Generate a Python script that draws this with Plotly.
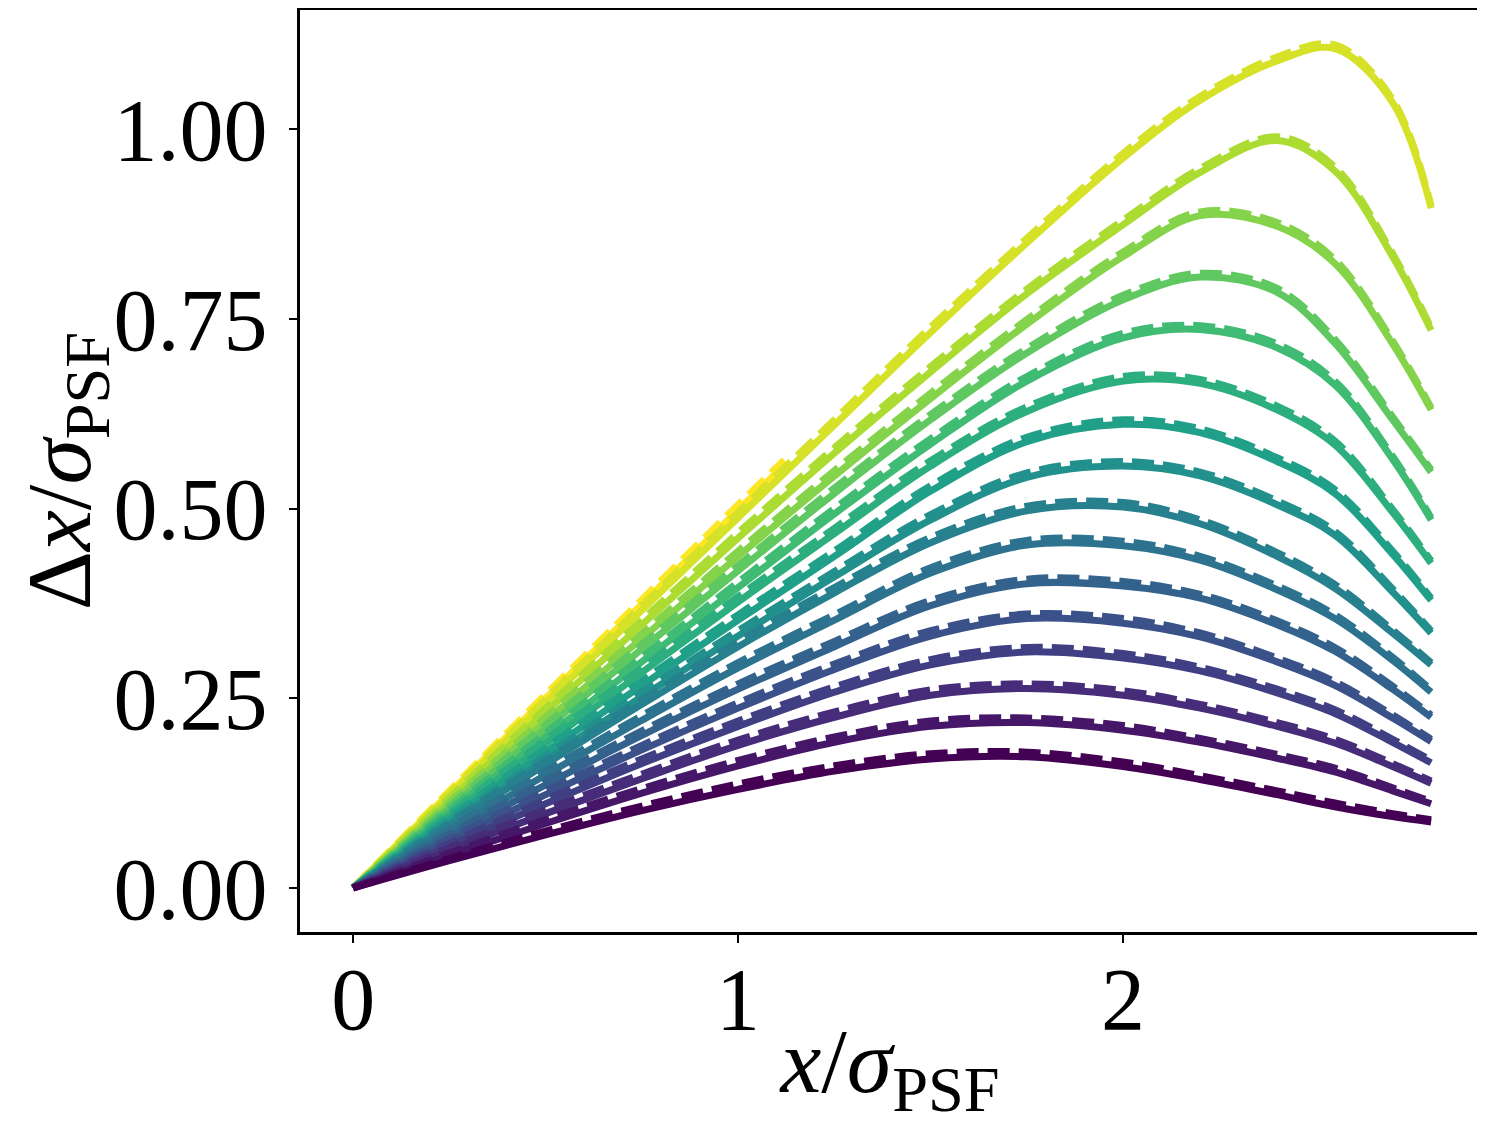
import plotly.graph_objects as go
from plotly.colors import sample_colorscale

# x positions (x / sigma_PSF) at which the curves were read
x_grid = [0, 0.25, 0.5, 0.75, 1.0, 1.25, 1.5, 1.75, 2.0, 2.2, 2.4, 2.55, 2.7, 2.8]
x_short = [0, 0.25, 0.5, 0.75, 1.0, 1.12]

# measured curves (solid), top (yellow) to bottom (purple)
y_data_00 = [0, .125, .250, .374, .498, .557]
y_data_01 = [0, .122, .244, .366, .488, .610, .732, .850, .962, 1.038, 1.090, 1.106, 1.035, .896]
y_data_02 = [0, .116, .232, .347, .461, .573, .680, .783, .874, .943, .985, .945, .832, .735]
y_data_03 = [0, .110, .220, .329, .437, .543, .645, .743, .832, .886, .872, .823, .717, .630]
y_data_04 = [0, .105, .210, .315, .418, .520, .617, .705, .775, .805, .785, .718, .617, .548]
y_data_05 = [0, .100, .199, .298, .396, .493, .585, .668, .725, .736, .712, .663, .565, .485]
y_data_06 = [0, .095, .190, .284, .377, .467, .556, .628, .668, .665, .630, .584, .495, .428]
y_data_07 = [0, .090, .179, .267, .353, .437, .523, .588, .611, .600, .562, .520, .440, .379]
y_data_08 = [0, .085, .169, .252, .332, .410, .485, .541, .556, .543, .505, .465, .390, .336]
y_data_09 = [0, .082, .163, .242, .318, .389, .455, .497, .502, .480, .437, .395, .336, .294]
y_data_10 = [0, .075, .149, .221, .290, .353, .415, .452, .451, .432, .393, .355, .300, .258]
y_data_11 = [0, .068, .136, .201, .262, .318, .372, .401, .398, .382, .347, .312, .262, .225]
y_data_12 = [0, .062, .123, .182, .237, .288, .332, .355, .349, .331, .298, .267, .224, .193]
y_data_13 = [0, .056, .111, .164, .213, .258, .294, .311, .303, .286, .257, .230, .192, .165]
y_data_14 = [0, .050, .098, .144, .188, .225, .254, .263, .254, .237, .213, .191, .160, .138]
y_data_15 = [0, .043, .085, .125, .161, .192, .213, .218, .208, .192, .171, .153, .128, .111]
y_data_16 = [0, .036, .070, .102, .130, .154, .170, .173, .160, .143, .123, .107, .094, .087]

# model curves (dashed)
y_model_00 = [0, .128, .255, .380, .505, .564]
y_model_01 = [0, .125, .249, .372, .495, .617, .739, .856, .968, 1.043, 1.095, 1.111, 1.039, .899]
y_model_02 = [0, .119, .237, .353, .468, .580, .687, .789, .880, .948, .990, .950, .836, .738]
y_model_03 = [0, .113, .225, .335, .444, .550, .652, .749, .838, .891, .877, .828, .721, .633]
y_model_04 = [0, .108, .215, .321, .425, .527, .624, .711, .781, .810, .790, .723, .621, .551]
y_model_05 = [0, .103, .204, .304, .403, .500, .592, .674, .731, .741, .717, .668, .569, .488]
y_model_06 = [0, .098, .195, .290, .384, .474, .563, .634, .674, .670, .635, .589, .499, .431]
y_model_07 = [0, .093, .184, .273, .360, .444, .530, .594, .617, .605, .567, .525, .444, .382]
y_model_08 = [0, .088, .174, .258, .339, .417, .492, .547, .562, .548, .510, .470, .394, .339]
y_model_09 = [0, .085, .168, .248, .325, .396, .462, .503, .508, .485, .442, .400, .340, .297]
y_model_10 = [0, .078, .154, .227, .297, .360, .422, .458, .457, .437, .398, .360, .304, .261]
y_model_11 = [0, .071, .141, .207, .269, .325, .379, .407, .404, .387, .352, .317, .266, .228]
y_model_12 = [0, .065, .128, .188, .244, .295, .339, .361, .355, .336, .303, .272, .228, .196]
y_model_13 = [0, .059, .116, .170, .220, .265, .301, .317, .309, .291, .262, .235, .196, .168]
y_model_14 = [0, .053, .103, .150, .195, .232, .261, .269, .260, .242, .218, .196, .164, .141]
y_model_15 = [0, .046, .090, .131, .168, .199, .220, .224, .214, .197, .176, .158, .132, .114]
y_model_16 = [0, .039, .075, .108, .137, .161, .177, .179, .166, .148, .128, .112, .098, .090]

y_ticks = [0.0, 0.25, 0.5, 0.75, 1.0]
x_ticks = [0, 1, 2]

data_curves = [y_data_00, y_data_01, y_data_02, y_data_03, y_data_04, y_data_05,
               y_data_06, y_data_07, y_data_08, y_data_09, y_data_10, y_data_11,
               y_data_12, y_data_13, y_data_14, y_data_15, y_data_16]
model_curves = [y_model_00, y_model_01, y_model_02, y_model_03, y_model_04, y_model_05,
                y_model_06, y_model_07, y_model_08, y_model_09, y_model_10, y_model_11,
                y_model_12, y_model_13, y_model_14, y_model_15, y_model_16]

n = len(data_curves)
colors = sample_colorscale("Viridis", [1 - i / (n - 1) for i in range(n)])

LW = 7
FONT = "Liberation Serif"

fig = go.Figure()
# yellow first, purple last (purple ends up on top at the origin)
for i in range(n):
    xs = x_short if i == 0 else x_grid
    fig.add_trace(go.Scatter(x=xs, y=data_curves[i], mode="lines",
                             line=dict(color=colors[i], width=LW, shape="spline"),
                             showlegend=False, hoverinfo="skip"))
    fig.add_trace(go.Scatter(x=xs, y=model_curves[i], mode="lines",
                             line=dict(color=colors[i], width=LW, shape="spline", dash="22px,9px"),
                             showlegend=False, hoverinfo="skip"))

# the page body adds an 8px offset, so the figure is a bit smaller than the window
fig.update_layout(
    width=1477, height=1117,
    margin=dict(l=292, r=5, t=2, b=193, autoexpand=False),
    paper_bgcolor="white", plot_bgcolor="white",
    font=dict(family=FONT, size=88, color="black"),
)
fig.update_xaxes(
    range=[-0.138, 2.927], tickvals=x_ticks, ticktext=[str(v) for v in x_ticks],
    showgrid=False, zeroline=False, automargin=False,
    showline=True, linecolor="black", linewidth=3, mirror=True,
    ticks="outside", ticklen=8, tickwidth=1.5, tickcolor="black",
    ticklabelstandoff=-20,
    title=dict(text="<i>x</i>/<i>σ</i><sub>PSF</sub>", standoff=40,
               font=dict(family=FONT, size=92)),
)
fig.update_yaxes(
    range=[-0.058, 1.157], tickvals=y_ticks, ticktext=["%.2f" % v for v in y_ticks],
    showgrid=False, zeroline=False, automargin=False,
    showline=True, linecolor="black", linewidth=3, mirror=True,
    ticks="outside", ticklen=8, tickwidth=1.5, tickcolor="black",
    ticklabelstandoff=4,
    title=dict(text="Δ<i>x</i>/<i>σ</i><sub>PSF</sub>", standoff=18,
               font=dict(family=FONT, size=92)),
)

fig.write_html("out.html")
